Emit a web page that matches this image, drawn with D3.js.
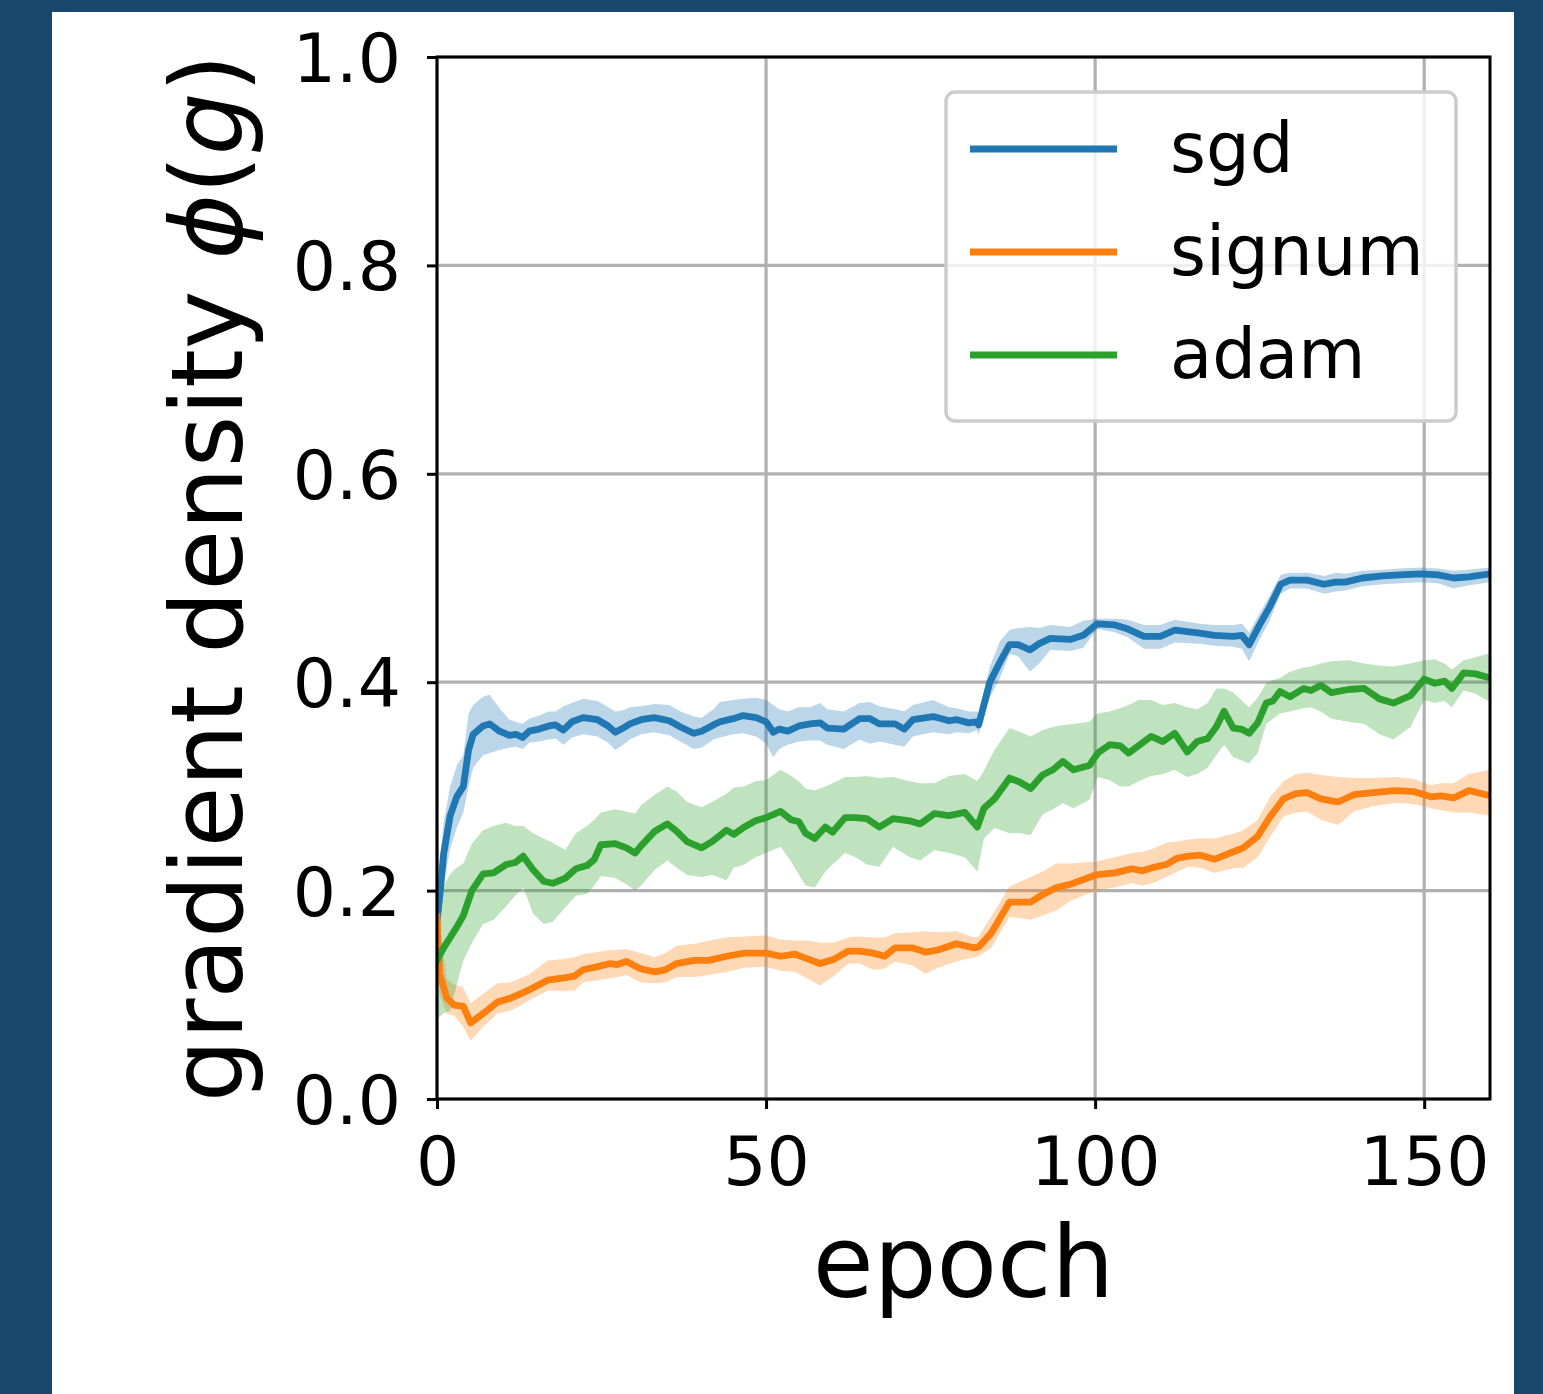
<!DOCTYPE html>
<html>
<head>
<meta charset="utf-8">
<script src="https://cdn.jsdelivr.net/npm/d3@7"></script>
<style>
  html, body { margin: 0; padding: 0; background: #18476c; }
  svg { display: block; }
  text { font-family: "DejaVu Sans", sans-serif; fill: #000; }
</style>
</head>
<body>
<svg id="chart" width="1543" height="1394"></svg>
<script>
// ---------- data ----------
const seriesNames = ["sgd", "signum", "adam"];
const seriesColors = ["#1f77b4", "#ff7f0e", "#2ca02c"];
const xTicks = [0, 50, 100, 150];
const yTicks = [0.0, 0.2, 0.4, 0.6, 0.8, 1.0];
const yTickLabels = ["0.0", "0.2", "0.4", "0.6", "0.8", "1.0"];

const sgdEpoch = [0,0.5,1,2,3,4,4.8,5.5,7,8,9.5,11,12,13,14,15.5,17,18,19.2,20.5,22.2,24.4,26,27.1,28.3,29.3,31,33,35.3,37,39,40.2,42,43,45,46.5,48.5,50,51.1,52,53.3,55,56.7,58.2,59.3,61.8,64.2,65.8,67.2,69.6,71,72.3,75.4,77.8,79,80.8,82,82.3,84,85.6,87,88.3,90.1,91.5,93.2,96.2,98.2,100.3,103,105,107.4,109.9,112.1,115.9,118.1,121,122.3,123.4,124.9,126.5,128.2,129.6,132.2,134.8,136.5,138,140.6,143.7,146.3,149.5,152.1,154.5,156.8,160];
const sgdMean = [0.17,0.20,0.235,0.272,0.29,0.30,0.335,0.350,0.358,0.360,0.353,0.349,0.350,0.347,0.353,0.355,0.358,0.359,0.354,0.362,0.366,0.364,0.358,0.352,0.356,0.360,0.364,0.366,0.363,0.357,0.351,0.353,0.359,0.362,0.365,0.368,0.366,0.362,0.352,0.355,0.353,0.358,0.360,0.361,0.356,0.355,0.365,0.365,0.360,0.360,0.355,0.364,0.367,0.363,0.364,0.361,0.362,0.359,0.40,0.42,0.436,0.436,0.431,0.437,0.442,0.441,0.445,0.456,0.455,0.451,0.444,0.444,0.450,0.447,0.445,0.444,0.445,0.436,0.454,0.472,0.494,0.498,0.498,0.494,0.496,0.496,0.500,0.502,0.503,0.504,0.503,0.500,0.501,0.504];
const sgdLow = [0.15,0.17,0.205,0.24,0.26,0.275,0.30,0.318,0.33,0.332,0.335,0.337,0.338,0.336,0.342,0.343,0.345,0.346,0.340,0.347,0.350,0.348,0.342,0.335,0.34,0.345,0.35,0.352,0.349,0.343,0.336,0.337,0.345,0.347,0.350,0.351,0.348,0.341,0.328,0.336,0.340,0.343,0.344,0.344,0.340,0.336,0.345,0.341,0.343,0.340,0.338,0.348,0.352,0.350,0.352,0.351,0.354,0.35,0.385,0.405,0.427,0.425,0.41,0.418,0.431,0.430,0.433,0.451,0.448,0.443,0.432,0.432,0.438,0.437,0.435,0.434,0.432,0.42,0.44,0.459,0.485,0.49,0.49,0.485,0.487,0.488,0.492,0.494,0.495,0.496,0.495,0.49,0.493,0.496];
const sgdHigh = [0.19,0.23,0.265,0.30,0.32,0.33,0.37,0.378,0.386,0.388,0.375,0.364,0.362,0.36,0.365,0.368,0.372,0.372,0.377,0.38,0.384,0.382,0.376,0.372,0.373,0.376,0.377,0.379,0.378,0.372,0.367,0.366,0.374,0.381,0.383,0.384,0.385,0.383,0.378,0.374,0.372,0.376,0.376,0.380,0.374,0.372,0.380,0.381,0.377,0.374,0.372,0.378,0.383,0.376,0.375,0.372,0.372,0.37,0.415,0.44,0.45,0.452,0.453,0.452,0.455,0.453,0.459,0.461,0.461,0.46,0.455,0.455,0.46,0.456,0.455,0.455,0.456,0.448,0.465,0.483,0.503,0.505,0.505,0.502,0.505,0.504,0.507,0.508,0.509,0.510,0.509,0.507,0.508,0.51];

const signumEpoch = [0,0.4,1.5,2.6,4,5.1,7,9.2,11.3,14.1,16.8,19,20.9,22.2,24.4,26.3,27.4,28.8,30.9,33.1,34.7,36.4,39.1,41.3,44,46.7,50,52.2,54.4,56.5,58.2,60.3,62.5,64.2,66.3,68,69.6,72.3,74.2,76.1,78.9,81.6,82.3,84.2,87,90.2,92,94.1,96.2,100.1,103,105.6,107.2,108.7,110.8,112.4,114.2,116,118.1,121.3,122.5,124.7,126.6,128.6,130.5,132.2,134.3,136.9,139.3,142.2,145.6,148.4,151,152.6,154.5,156.8,160];
const signumMean = [0.175,0.12,0.097,0.090,0.089,0.073,0.082,0.093,0.097,0.105,0.114,0.116,0.118,0.124,0.127,0.130,0.129,0.132,0.125,0.122,0.124,0.130,0.133,0.133,0.137,0.140,0.140,0.137,0.139,0.134,0.130,0.134,0.142,0.142,0.140,0.137,0.145,0.145,0.141,0.143,0.149,0.145,0.146,0.159,0.189,0.189,0.196,0.203,0.206,0.215,0.217,0.221,0.219,0.222,0.225,0.231,0.233,0.234,0.230,0.238,0.241,0.252,0.271,0.288,0.293,0.294,0.288,0.285,0.292,0.294,0.296,0.295,0.290,0.291,0.289,0.296,0.291];
const signumLow = [0.15,0.10,0.082,0.08,0.069,0.056,0.069,0.082,0.085,0.095,0.104,0.104,0.104,0.112,0.114,0.116,0.117,0.119,0.112,0.111,0.112,0.117,0.117,0.119,0.122,0.126,0.127,0.123,0.122,0.115,0.109,0.118,0.13,0.13,0.124,0.125,0.132,0.128,0.12,0.126,0.132,0.136,0.137,0.145,0.175,0.172,0.176,0.181,0.19,0.2,0.203,0.207,0.205,0.207,0.213,0.218,0.223,0.222,0.217,0.222,0.222,0.232,0.252,0.271,0.275,0.276,0.268,0.263,0.276,0.281,0.284,0.283,0.279,0.277,0.275,0.275,0.272];
const signumHigh = [0.19,0.16,0.115,0.11,0.107,0.092,0.101,0.111,0.112,0.12,0.133,0.134,0.136,0.139,0.141,0.143,0.143,0.144,0.14,0.136,0.14,0.147,0.149,0.152,0.155,0.156,0.157,0.153,0.152,0.152,0.150,0.150,0.155,0.156,0.155,0.155,0.159,0.16,0.161,0.160,0.161,0.155,0.156,0.175,0.204,0.213,0.218,0.226,0.226,0.228,0.232,0.236,0.237,0.24,0.246,0.247,0.249,0.25,0.25,0.255,0.258,0.268,0.29,0.305,0.312,0.313,0.311,0.309,0.308,0.308,0.309,0.307,0.301,0.303,0.303,0.312,0.316];

const adamEpoch = [0,1,2,3,4,5.3,7,8.6,10.5,11.9,13.1,14.6,16.2,17.6,19.5,21.1,22.8,23.9,24.9,27.1,28.8,30.1,31,33.1,35,36.4,38,40.2,41.8,44,45.1,46.7,48.4,50,52.2,53.8,55,56,57.4,59,60.1,62,63.6,65.3,67.2,69.3,71.8,73.4,75.6,77.8,80.2,82.1,83.1,84.7,87,88.6,90.2,92,93.6,95.1,96.7,99.1,100.4,102.2,103.8,105.1,106.6,108.5,110.3,112.1,114,115.5,117.1,118.4,119.6,121,122.2,123.4,124.7,126,127,128.1,129.6,131.7,132.8,134.3,135.9,138.5,140.9,143.2,145.3,147.9,150,151.6,153.1,154.2,156,157.8,160];
const adamMean = [0.133,0.145,0.155,0.165,0.176,0.200,0.216,0.217,0.225,0.227,0.233,0.220,0.209,0.207,0.212,0.221,0.224,0.230,0.244,0.245,0.241,0.236,0.243,0.257,0.264,0.257,0.247,0.241,0.247,0.258,0.254,0.261,0.267,0.270,0.276,0.268,0.266,0.255,0.250,0.261,0.256,0.270,0.270,0.269,0.261,0.269,0.267,0.264,0.274,0.272,0.275,0.261,0.279,0.288,0.308,0.304,0.298,0.311,0.316,0.324,0.316,0.320,0.332,0.340,0.339,0.332,0.339,0.348,0.343,0.351,0.333,0.343,0.346,0.357,0.372,0.356,0.355,0.351,0.361,0.380,0.382,0.391,0.386,0.394,0.392,0.397,0.390,0.393,0.394,0.384,0.380,0.387,0.403,0.399,0.401,0.394,0.409,0.408,0.404];
const adamLow = [0.077,0.082,0.085,0.11,0.133,0.15,0.168,0.172,0.185,0.195,0.203,0.178,0.168,0.17,0.184,0.195,0.197,0.205,0.214,0.212,0.206,0.200,0.205,0.22,0.229,0.222,0.215,0.213,0.215,0.21,0.222,0.225,0.232,0.236,0.242,0.228,0.215,0.205,0.203,0.218,0.225,0.236,0.232,0.225,0.223,0.242,0.232,0.229,0.239,0.236,0.232,0.218,0.25,0.26,0.255,0.255,0.253,0.273,0.278,0.284,0.279,0.287,0.309,0.306,0.300,0.300,0.305,0.310,0.312,0.316,0.309,0.312,0.318,0.330,0.340,0.328,0.325,0.322,0.332,0.36,0.365,0.37,0.372,0.375,0.376,0.372,0.365,0.362,0.36,0.350,0.345,0.357,0.383,0.38,0.382,0.376,0.392,0.389,0.381];
const adamHigh = [0.18,0.205,0.216,0.222,0.226,0.245,0.258,0.262,0.265,0.262,0.262,0.255,0.250,0.246,0.239,0.255,0.262,0.268,0.275,0.278,0.276,0.274,0.282,0.292,0.30,0.295,0.285,0.280,0.285,0.293,0.299,0.300,0.305,0.306,0.316,0.310,0.305,0.298,0.296,0.300,0.303,0.309,0.309,0.310,0.308,0.309,0.305,0.303,0.303,0.310,0.312,0.305,0.315,0.335,0.356,0.352,0.348,0.354,0.357,0.359,0.360,0.362,0.37,0.372,0.375,0.378,0.383,0.383,0.378,0.380,0.376,0.374,0.380,0.394,0.394,0.39,0.383,0.376,0.385,0.399,0.402,0.404,0.41,0.414,0.415,0.418,0.420,0.421,0.418,0.416,0.415,0.418,0.421,0.422,0.418,0.412,0.421,0.424,0.428];

// ---------- layout ----------
const svg = d3.select("#chart");
const W = 1543, H = 1394;
const plot = { left: 437, right: 1490, top: 57, bottom: 1099 };

svg.append("rect").attr("x", 0).attr("y", 0).attr("width", W).attr("height", H).attr("fill", "#18476c");
svg.append("rect").attr("x", 52).attr("y", 12).attr("width", 1462).attr("height", H - 12).attr("fill", "#ffffff");

const x = d3.scaleLinear().domain([0, 160]).range([plot.left, plot.right]);
const y = d3.scaleLinear().domain([0, 1]).range([plot.bottom, plot.top]);

svg.append("defs").append("clipPath").attr("id", "clip")
  .append("rect").attr("x", plot.left).attr("y", plot.top)
  .attr("width", plot.right - plot.left).attr("height", plot.bottom - plot.top);

// grid
const grid = svg.append("g");
grid.selectAll("line.gx").data(xTicks).join("line")
  .attr("x1", d => x(d)).attr("x2", d => x(d))
  .attr("y1", plot.top).attr("y2", plot.bottom)
  .attr("stroke", "#b0b0b0").attr("stroke-width", 3.2);
grid.selectAll("line.gy").data(yTicks).join("line")
  .attr("x1", plot.left).attr("x2", plot.right)
  .attr("y1", d => y(d)).attr("y2", d => y(d))
  .attr("stroke", "#b0b0b0").attr("stroke-width", 3.2);

// series
const series = [
  { name: seriesNames[0], color: seriesColors[0], e: sgdEpoch, m: sgdMean, lo: sgdLow, hi: sgdHigh },
  { name: seriesNames[1], color: seriesColors[1], e: signumEpoch, m: signumMean, lo: signumLow, hi: signumHigh },
  { name: seriesNames[2], color: seriesColors[2], e: adamEpoch, m: adamMean, lo: adamLow, hi: adamHigh }
];

const dataG = svg.append("g").attr("clip-path", "url(#clip)");
series.forEach(s => {
  const pts = s.e.map((ep, i) => ({ e: ep, m: s.m[i], lo: s.lo[i], hi: s.hi[i] }));
  const area = d3.area().x(d => x(d.e)).y0(d => y(d.lo)).y1(d => y(d.hi));
  dataG.append("path").datum(pts).attr("d", area)
    .attr("fill", s.color).attr("fill-opacity", 0.3).attr("stroke", "none");
});
series.forEach(s => {
  const pts = s.e.map((ep, i) => ({ e: ep, m: s.m[i] }));
  const line = d3.line().x(d => x(d.e)).y(d => y(d.m));
  dataG.append("path").datum(pts).attr("d", line)
    .attr("fill", "none").attr("stroke", s.color).attr("stroke-width", 6.8)
    .attr("stroke-linejoin", "round").attr("stroke-linecap", "square");
});

// axes
const tickFont = 68;
const xAxis = d3.axisBottom(x).tickValues(xTicks).tickSize(10).tickPadding(24).tickFormat(d3.format("d"));
const gx = svg.append("g").attr("transform", `translate(0,${plot.bottom})`).call(xAxis);
const yAxis = d3.axisLeft(y).tickValues(yTicks).tickSize(10).tickPadding(26).tickFormat((d, i) => yTickLabels[i]);
const gy = svg.append("g").attr("transform", `translate(${plot.left},0)`).call(yAxis);
[gx, gy].forEach(g => {
  g.select(".domain").remove();
  g.selectAll(".tick line").attr("stroke", "#000").attr("stroke-width", 3);
  g.selectAll(".tick text").attr("font-size", tickFont).attr("font-family", "DejaVu Sans").attr("fill", "#000");
});
gy.selectAll(".tick text").attr("dy", "0.36em");
gx.selectAll(".tick text").attr("dy", "0.76em");

// spines
svg.append("rect").attr("x", plot.left).attr("y", plot.top)
  .attr("width", plot.right - plot.left).attr("height", plot.bottom - plot.top)
  .attr("fill", "none").attr("stroke", "#000").attr("stroke-width", 3);

// axis labels
svg.append("text").attr("x", (plot.left + plot.right) / 2).attr("y", 1297)
  .attr("text-anchor", "middle").attr("font-size", 99).text("epoch");

const yl = svg.append("text")
  .attr("transform", `translate(242,${(plot.top + plot.bottom) / 2}) rotate(-90)`)
  .attr("text-anchor", "middle").attr("font-size", 99);
yl.append("tspan").text("gradient density ");
yl.append("tspan").attr("font-style", "italic").text("ϕ");
yl.append("tspan").text("(");
yl.append("tspan").attr("font-style", "italic").text("g");
yl.append("tspan").text(")");

// legend
const leg = svg.append("g");
leg.append("rect").attr("x", 946).attr("y", 92).attr("width", 510).attr("height", 329)
  .attr("rx", 9).attr("ry", 9)
  .attr("fill", "#ffffff").attr("fill-opacity", 0.8)
  .attr("stroke", "#cccccc").attr("stroke-width", 3.5);
const legY = d3.scalePoint().domain(seriesNames).range([149, 355]);
series.forEach(s => {
  leg.append("line").attr("x1", 970).attr("x2", 1117)
    .attr("y1", legY(s.name)).attr("y2", legY(s.name))
    .attr("stroke", s.color).attr("stroke-width", 7);
  leg.append("text").attr("x", 1170).attr("y", legY(s.name) + 23)
    .attr("font-size", 69).text(s.name);
});
</script>
</body>
</html>
